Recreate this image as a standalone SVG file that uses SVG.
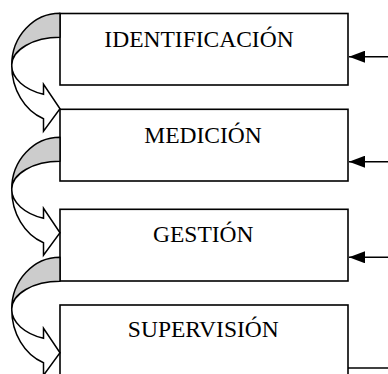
<svg xmlns="http://www.w3.org/2000/svg" width="388" height="374" viewBox="0 0 388 374">
  <style>
    .box { fill: #ffffff; stroke: #000000; stroke-width: 1.6; }
    .label { font-family: "Liberation Serif", "Times New Roman", serif; font-size: 23.5px; fill: #000000; text-anchor: middle; }
    .back { fill: #cccccc; stroke: #000000; stroke-width: 1.5; stroke-linejoin: round; }
    .front { fill: #ffffff; stroke: #000000; stroke-width: 1.5; stroke-linejoin: miter; }
    .feed { fill: none; stroke: #000000; stroke-width: 1.5; }
  </style>
  <defs>
    <!-- one curved step arrow; y = 0 at the top of the band -->
    <g id="curved-step">
      <path class="back" d="M 60,0 A 48.3 52 0 0 0 11.7,52 A 48.3 28 0 0 1 60,24 Z"/>
      <path class="front" d="M 11.7,52 A 48.3 30.9 0 0 0 43.5,81 L 43.5,71 L 60,95.5 L 43.5,118 L 43.5,105.5 A 48.3 56.9 0 0 1 11.7,52 Z"/>
    </g>
    <marker id="head" viewBox="0 0 16 12" refX="16" refY="6" markerWidth="16" markerHeight="12" markerUnits="userSpaceOnUse" orient="auto">
      <path d="M 16,6 L 0,0 L 0,12 Z" fill="#000000"/>
    </marker>
  </defs>

  <g id="box1">
    <rect class="box" x="60" y="13.5" width="288" height="71.5"/>
    <text class="label" x="199" y="46.7">IDENTIFICACIÓN</text>
  </g>
  <g id="box2">
    <rect class="box" x="60" y="109.3" width="288" height="71.7"/>
    <text class="label" x="203" y="142.7">MEDICIÓN</text>
  </g>
  <g id="box3">
    <rect class="box" x="60" y="209.3" width="288" height="71.7"/>
    <text class="label" x="203.3" y="241.7">GESTIÓN</text>
  </g>
  <g id="box4">
    <rect class="box" x="60" y="305" width="288" height="100"/>
    <text class="label" x="203.3" y="336.7">SUPERVISIÓN</text>
  </g>

  <g id="connectors">
    <use href="#curved-step" transform="translate(0,13.3)"/>
    <use href="#curved-step" transform="translate(0,137.3)"/>
    <use href="#curved-step" transform="translate(0,257.3)"/>
    <line class="feed" x1="388" y1="56.7" x2="349" y2="56.7" marker-end="url(#head)"/>
    <line class="feed" x1="388" y1="161.7" x2="349" y2="161.7" marker-end="url(#head)"/>
    <line class="feed" x1="388" y1="257.3" x2="349" y2="257.3" marker-end="url(#head)"/>
    <line class="feed" x1="348" y1="368" x2="388" y2="368"/>
  </g>
</svg>
